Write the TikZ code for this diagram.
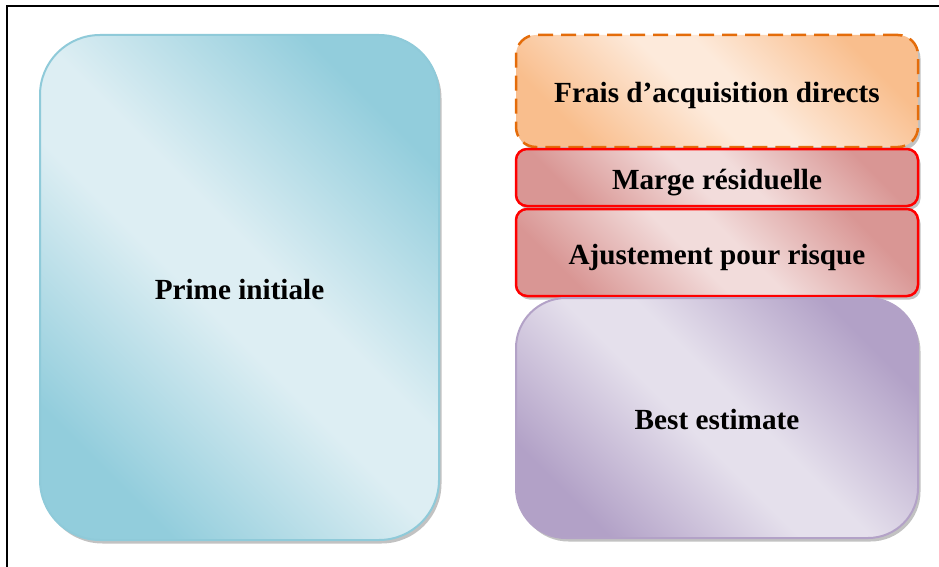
\documentclass[tikz,border=0pt]{standalone}
\usepackage{fontspec}
\setmainfont{Liberation Serif}
\usetikzlibrary{shadows}
\definecolor{blueDark}{HTML}{92CDDC}
\definecolor{blueLight}{HTML}{DDEEF3}
\definecolor{blueLine}{HTML}{8FCAD9}
\definecolor{orDark}{HTML}{F9BE8D}
\definecolor{orLight}{HTML}{FDEADB}
\definecolor{orLine}{HTML}{E46C0A}
\definecolor{redDark}{HTML}{D99694}
\definecolor{redLight}{HTML}{F2DCDB}
\definecolor{puDark}{HTML}{B2A1C7}
\definecolor{puLight}{HTML}{E5E0EC}
\definecolor{puLine}{HTML}{B3A2C7}
\pgfdeclarehorizontalshading{blueshade}{100bp}{color(0bp)=(blueDark); color(25bp)=(blueDark); color(46bp)=(blueLight); color(54bp)=(blueLight); color(75bp)=(blueDark); color(100bp)=(blueDark)}
\pgfdeclarehorizontalshading{orshade}{100bp}{color(0bp)=(orDark); color(25bp)=(orDark); color(46bp)=(orLight); color(54bp)=(orLight); color(75bp)=(orDark); color(100bp)=(orDark)}
\pgfdeclarehorizontalshading{redshade}{100bp}{color(0bp)=(redDark); color(25bp)=(redDark); color(46bp)=(redLight); color(54bp)=(redLight); color(75bp)=(redDark); color(100bp)=(redDark)}
\pgfdeclarehorizontalshading{pushade}{100bp}{color(0bp)=(puDark); color(25bp)=(puDark); color(46bp)=(puLight); color(54bp)=(puLight); color(75bp)=(puDark); color(100bp)=(puDark)}
\tikzset{
  blk/.style={rectangle, align=center, font=\fontsize{29.2}{34}\selectfont\bfseries,
    inner sep=0pt, text height=23pt, text depth=0pt,
    drop shadow={shadow xshift=2.5pt, shadow yshift=-3.5pt, opacity=0.4, fill=black!60}},
  bluebox/.style={blk, draw=blueLine, line width=2pt, rounded corners=60pt,
    shade, shading=blueshade, shading angle=45},
  orbox/.style={blk, draw=orLine, line width=2.5pt, dash pattern=on 15pt off 8pt, rounded corners=20pt,
    shade, shading=orshade, shading angle=45},
  redbox/.style={blk, draw=red, line width=2.5pt, rounded corners=11pt,
    shade, shading=redshade, shading angle=45},
  pubox/.style={blk, draw=puLine, line width=2pt, rounded corners=50pt,
    shade, shading=pushade, shading angle=45},
}
\begin{document}
\begin{tikzpicture}[x=1pt,y=-1pt]
\useasboundingbox (0,0) rectangle (939,567);
\clip (0,0) rectangle (939,567);
\draw[line width=2pt] (7,6) rectangle (960,590);
\node[bluebox, minimum width=399pt, minimum height=505pt] (prime) at (239.5,287.5) {Prime initiale};
\node[orbox, minimum width=402pt, minimum height=112pt] (frais) at (717,91) {Frais d’acquisition directs};
\node[redbox, minimum width=402pt, minimum height=57pt] (marge) at (717,177.5) {Marge résiduelle};
\node[redbox, minimum width=402pt, minimum height=87pt] (ajust) at (717,252.5) {Ajustement pour risque};
\node[pubox, minimum width=402pt, minimum height=240pt] (best) at (717,418) {Best estimate};
\end{tikzpicture}
\end{document}
